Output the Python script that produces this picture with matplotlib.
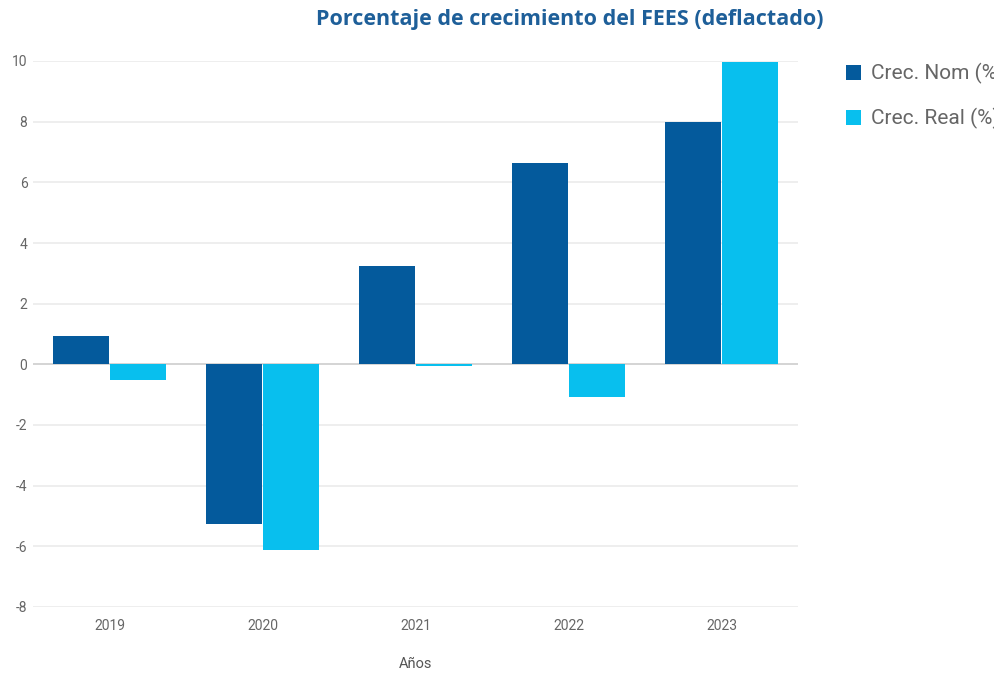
import matplotlib
matplotlib.use("Agg")
import matplotlib.pyplot as plt
import numpy as np

years = ["2019", "2020", "2021", "2022", "2023"]
crec_nom = [0.95, -5.27, 3.23, 6.63, 7.98]
crec_real = [-0.5, -6.13, -0.05, -1.09, 9.96]
series_labels = ["Crec. Nom (%)", "Crec. Real (%)"]
y_ticks = [-8, -6, -4, -2, 0, 2, 4, 6, 8, 10]

c_nom = "#045a9c"
c_real = "#08bfee"

plt.rcParams['font.family'] = ['Roboto', 'DejaVu Sans']

fig = plt.figure(figsize=(9.94, 6.73), dpi=100)
ax = fig.add_axes([33/994, 1-607/673, (798-33)/994, (607-61)/673])

x = np.arange(len(years))
w = 0.365
gap = 0.006
ax.bar(x - w/2 - gap, crec_nom, width=w, color=c_nom, label=series_labels[0], zorder=3)
ax.bar(x + w/2 + gap, crec_real, width=w, color=c_real, label=series_labels[1], zorder=3)

ax.set_xlim(-0.5, len(years) - 0.5)
ax.set_ylim(-8, 10)
ax.set_yticks(y_ticks)
ax.set_yticklabels([str(t) for t in y_ticks], fontsize=10, color="#666666")
ax.set_xticks(x)
ax.set_xticklabels(years, fontsize=10, color="#666666")
ax.tick_params(axis='both', length=0)
ax.tick_params(axis='y', pad=4)
ax.tick_params(axis='x', pad=9)
for s in ax.spines.values():
    s.set_visible(False)
ax.grid(axis='y', color="#ebebeb", linewidth=1.2, zorder=0)
ax.axhline(0, color="#d0d0d0", linewidth=1.2, zorder=2)
ax.set_xlabel("Años", fontsize=10.5, color="#555555", labelpad=17)

fig.text(570/994, 1-19/673, "Porcentaje de crecimiento del FEES (deflactado)",
         ha="center", va="center", fontsize=15.5, fontweight="bold", color="#1e5f99",
         family=["Open Sans", "DejaVu Sans"])

ax.legend(loc="upper left", bbox_to_anchor=(846/994, 1-63/673),
          bbox_transform=fig.transFigure, frameon=False, fontsize=15,
          labelcolor="#666666", handlelength=0.72, handleheight=0.72,
          handletextpad=0.5, labelspacing=1.15, borderaxespad=0,
          borderpad=0)

fig.savefig("out.png", dpi=100, facecolor="white")
